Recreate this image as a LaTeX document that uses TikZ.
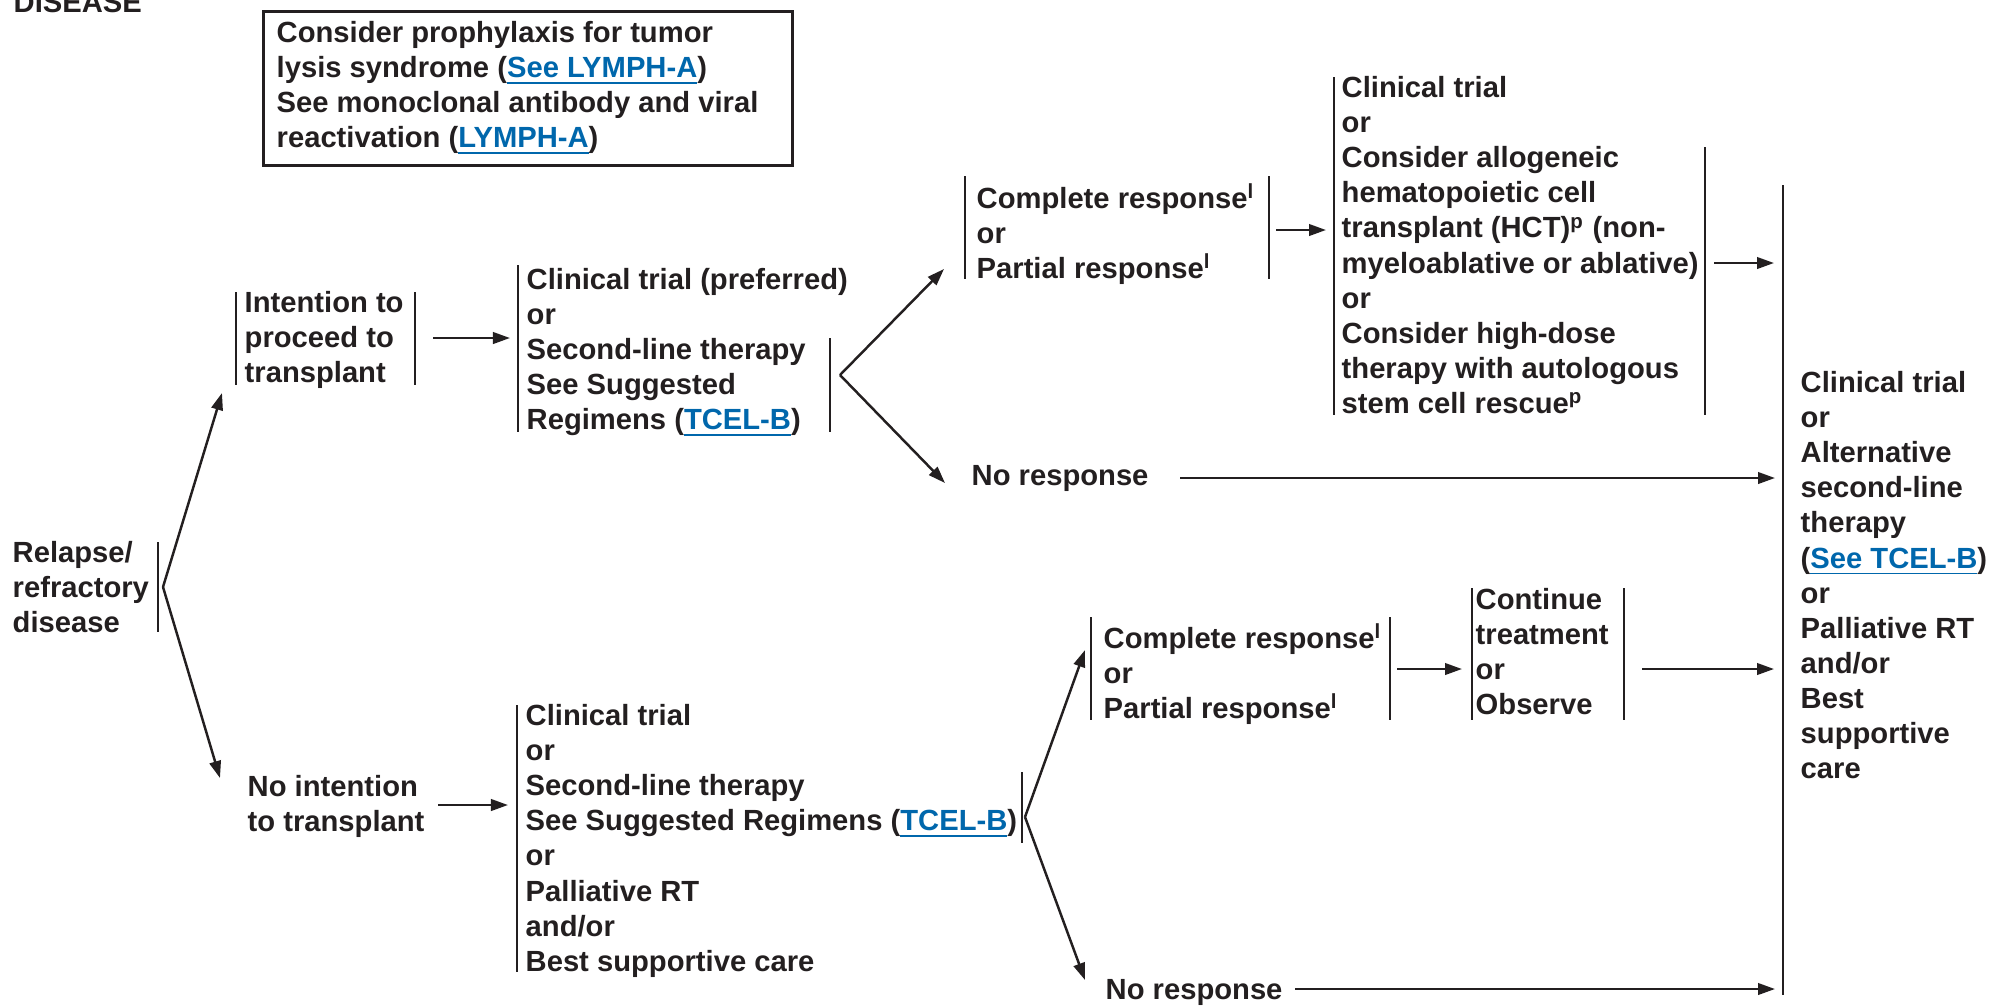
\documentclass[tikz,border=0pt]{standalone}
\usepackage{fontspec}
\setmainfont{Liberation Sans}
\usetikzlibrary{arrows.meta}
\definecolor{ink}{RGB}{35,31,32}
\definecolor{linkblue}{RGB}{0,103,172}
\newcommand{\lnk}[1]{\textcolor{linkblue}{\underline{#1}}}
\tikzset{
  steptext/.style = {font=\fontsize{8.3}{9.96}\selectfont\bfseries, text=ink, align=left, inner sep=0pt, anchor=north west, yshift=-0.07cm, execute at begin node={\rule{0pt}{8pt}}},
  bar/.style = {draw=ink, line width=0.75pt},
  flow/.style = {draw=ink, line width=0.7pt, -{Triangle[length=1.7mm,width=1.15mm]}}
}

\begin{document}
\begin{tikzpicture}[x=0.01cm, y=-0.01cm]
\useasboundingbox (0,0) rectangle (2011,1005);
\node [steptext, anchor=base west, yshift=0cm] (disease) at (13,5) {DISEASE};
\node [draw=ink, line width=0.9pt, anchor=north west, minimum width=5.29cm, minimum height=1.54cm, inner sep=0pt] (notebox) at (262,10) {};
\node [steptext] (note) at (276,14) {Consider prophylaxis for tumor\\lysis syndrome (\lnk{See LYMPH-A})\\See monoclonal antibody and viral\\reactivation (\lnk{LYMPH-A})};

\node [steptext] (relapse) at (12,534) {Relapse/\\refractory\\disease};
\node [steptext] (intent) at (244,284) {Intention to\\proceed to\\transplant};
\node [steptext] (ctpref) at (526,261) {Clinical trial (preferred)\\or\\Second-line therapy\\See Suggested\\Regimens (\lnk{TCEL-B})};
\node [steptext] (crup) at (976,176) {Complete response\textsuperscript{l}\\or\\Partial response\textsuperscript{l}};
\node [steptext] (hct) at (1341,69) {Clinical trial\\or\\Consider allogeneic\\hematopoietic cell\\transplant (HCT)\textsuperscript{p} (non-\\myeloablative or ablative)\\or\\Consider high-dose\\therapy with autologous\\stem cell rescue\textsuperscript{p}};
\node [steptext] (noresp1) at (971,450) {No response};
\node [steptext] (final) at (1800,364) {Clinical trial\\or\\Alternative\\second-line\\therapy\\(\lnk{See TCEL-B})\\or\\Palliative RT\\and/or\\Best\\supportive\\care};
\node [steptext] (nointent) at (247,768) {No intention\\to transplant};
\node [steptext] (ctlow) at (525,697) {Clinical trial\\or\\Second-line therapy\\See Suggested Regimens (\lnk{TCEL-B})\\or\\Palliative RT\\and/or\\Best supportive care};
\node [steptext] (crlow) at (1103,616) {Complete response\textsuperscript{l}\\or\\Partial response\textsuperscript{l}};
\node [steptext] (contin) at (1475,581) {Continue\\treatment\\or\\Observe};
\node [steptext] (noresp2) at (1105,964) {No response};

\draw [bar] (158,542) -- (158,632);
\draw [bar] (236,292) -- (236,385);
\draw [bar] (415,292) -- (415,385);
\draw [bar] (518,265) -- (518,432);
\draw [bar] (830,338) -- (830,432);
\draw [bar] (965,176) -- (965,279);
\draw [bar] (1269,176) -- (1269,279);
\draw [bar] (1334,77) -- (1334,415);
\draw [bar] (1705,147) -- (1705,415);
\draw [bar] (1783,185) -- (1783,995);
\draw [bar] (517,705) -- (517,972);
\draw [bar] (1022,772) -- (1022,843);
\draw [bar] (1091,617) -- (1091,720);
\draw [bar] (1390,617) -- (1390,720);
\draw [bar] (1472,588) -- (1472,720);
\draw [bar] (1624,588) -- (1624,720);

\coordinate (relapse-fork) at (163,587);
\coordinate (intent-in) at (222,393);
\coordinate (nointent-in) at (220,778);
\coordinate (intent-out) at (433,338);
\coordinate (ctpref-in) at (510,338);
\coordinate (ctpref-fork) at (840,375);
\coordinate (crup-in) at (944,269);
\coordinate (noresp1-in) at (945,483);
\coordinate (crup-out) at (1276,230);
\coordinate (hct-in) at (1326,230);
\coordinate (hct-out) at (1714,263);
\coordinate (final-a) at (1774,263);
\coordinate (noresp1-out) at (1180,478);
\coordinate (final-b) at (1775,478);
\coordinate (nointent-out) at (438,805);
\coordinate (ctlow-in) at (508,805);
\coordinate (ctlow-fork) at (1025,817);
\coordinate (crlow-in) at (1085,650);
\coordinate (noresp2-in) at (1085,980);
\coordinate (crlow-out) at (1397,669);
\coordinate (contin-in) at (1462,669);
\coordinate (contin-out) at (1642,669);
\coordinate (final-c) at (1774,669);
\coordinate (noresp2-out) at (1295,989);
\coordinate (final-d) at (1775,989);

\draw [flow] (relapse-fork) -- (intent-in);
\draw [flow] (relapse-fork) -- (nointent-in);
\draw [flow] (intent-out) -- (ctpref-in);
\draw [flow] (ctpref-fork) -- (crup-in);
\draw [flow] (ctpref-fork) -- (noresp1-in);
\draw [flow] (crup-out) -- (hct-in);
\draw [flow] (hct-out) -- (final-a);
\draw [flow] (noresp1-out) -- (final-b);
\draw [flow] (nointent-out) -- (ctlow-in);
\draw [flow] (ctlow-fork) -- (crlow-in);
\draw [flow] (ctlow-fork) -- (noresp2-in);
\draw [flow] (crlow-out) -- (contin-in);
\draw [flow] (contin-out) -- (final-c);
\draw [flow] (noresp2-out) -- (final-d);
\end{tikzpicture}
\end{document}
